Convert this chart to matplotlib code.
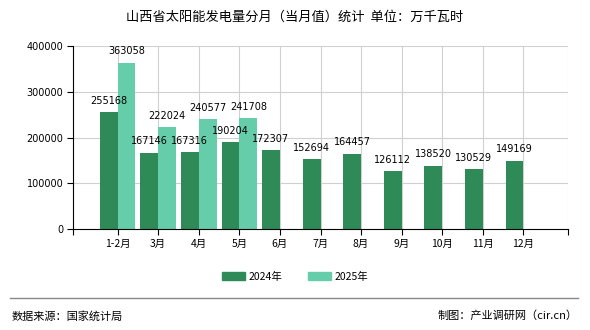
import numpy as np
import matplotlib
matplotlib.use("Agg")
from matplotlib import pyplot as plt
from matplotlib.lines import Line2D

plt.rcParams['font.family'] = ['Noto Sans CJK SC', 'DejaVu Sans']

months = ['1-2月', '3月', '4月', '5月', '6月', '7月', '8月', '9月', '10月', '11月', '12月']
vals_2024 = [255168, 167146, 167316, 190204, 172307, 152694, 164457, 126112, 138520, 130529, 149169]
vals_2025 = [363058, 222024, 240577, 241708]
yticks = [0, 100000, 200000, 300000, 400000]

c2024 = '#2e8b57'
c2025 = '#66cdaa'

fig = plt.figure(figsize=(5.9, 3.3), dpi=100)
ax = fig.add_axes([73 / 590, 1 - 229 / 330, 495 / 590, 183 / 330])

x = np.arange(len(months))
w = 0.44
ax.bar(x[:len(vals_2024)] - w, vals_2024, width=w, align='edge', color=c2024)
ax.bar(x[:len(vals_2025)], vals_2025, width=w, align='edge', color=c2025)

for i, v in enumerate(vals_2024):
    ax.text(i - w / 2, v + 14000, str(v), ha='center', va='bottom', fontsize=7,
            family='DejaVu Sans')
for i, v in enumerate(vals_2025):
    ax.text(i + w / 2, v + 14000, str(v), ha='center', va='bottom', fontsize=7,
            family='DejaVu Sans')

pad_x = 1.1
ax.set_xlim(-pad_x, len(months) - 1 + pad_x)
ax.set_ylim(0, 400000)
ax.set_yticks(yticks)
ax.set_yticklabels([str(t) for t in yticks], fontsize=7, family='DejaVu Sans')
ax.set_xticks(x)
ax.set_xticklabels(months, fontsize=7.5)
ax.set_xticks([-pad_x, len(months) - 1 + pad_x], minor=True)
ax.tick_params(axis='both', which='both', length=4, width=0.8, color='black', pad=3)

# grid: horizontal at y ticks, vertical at category ticks and right edge
for t in yticks[1:]:
    ax.axhline(t, color='#d0d0d0', lw=0.8, zorder=0)
for xi in list(x) + [len(months) - 1 + pad_x]:
    ax.axvline(xi, color='#d0d0d0', lw=0.8, zorder=0)
ax.set_axisbelow(True)

for s in ['top', 'right']:
    ax.spines[s].set_visible(False)
ax.spines['left'].set_color('black')
ax.spines['bottom'].set_color('black')

fig.text(0.5, 1 - 17 / 330, '山西省太阳能发电量分月（当月值）统计  单位：万千瓦时',
         ha='center', va='center', fontsize=9.5)

handles = [plt.Rectangle((0, 0), 1, 1, color=c2024),
           plt.Rectangle((0, 0), 1, 1, color=c2025)]
fig.legend(handles, ['2024年', '2025年'], loc='center', bbox_to_anchor=(0.5, 1 - 277 / 330),
           ncol=2, frameon=False, fontsize=7.5, handlelength=2.2, handleheight=0.8,
           columnspacing=2.5, handletextpad=0.3)

fig.add_artist(Line2D([10 / 590, 578 / 590], [1 - 298 / 330] * 2, color='#888888', lw=1))
fig.text(12 / 590, 1 - 316 / 330, '数据来源：国家统计局', ha='left', va='center', fontsize=8)
fig.text(578 / 590, 1 - 316 / 330, '制图：产业调研网（cir.cn）', ha='right', va='center', fontsize=8)

fig.savefig('out.png', dpi=100)
